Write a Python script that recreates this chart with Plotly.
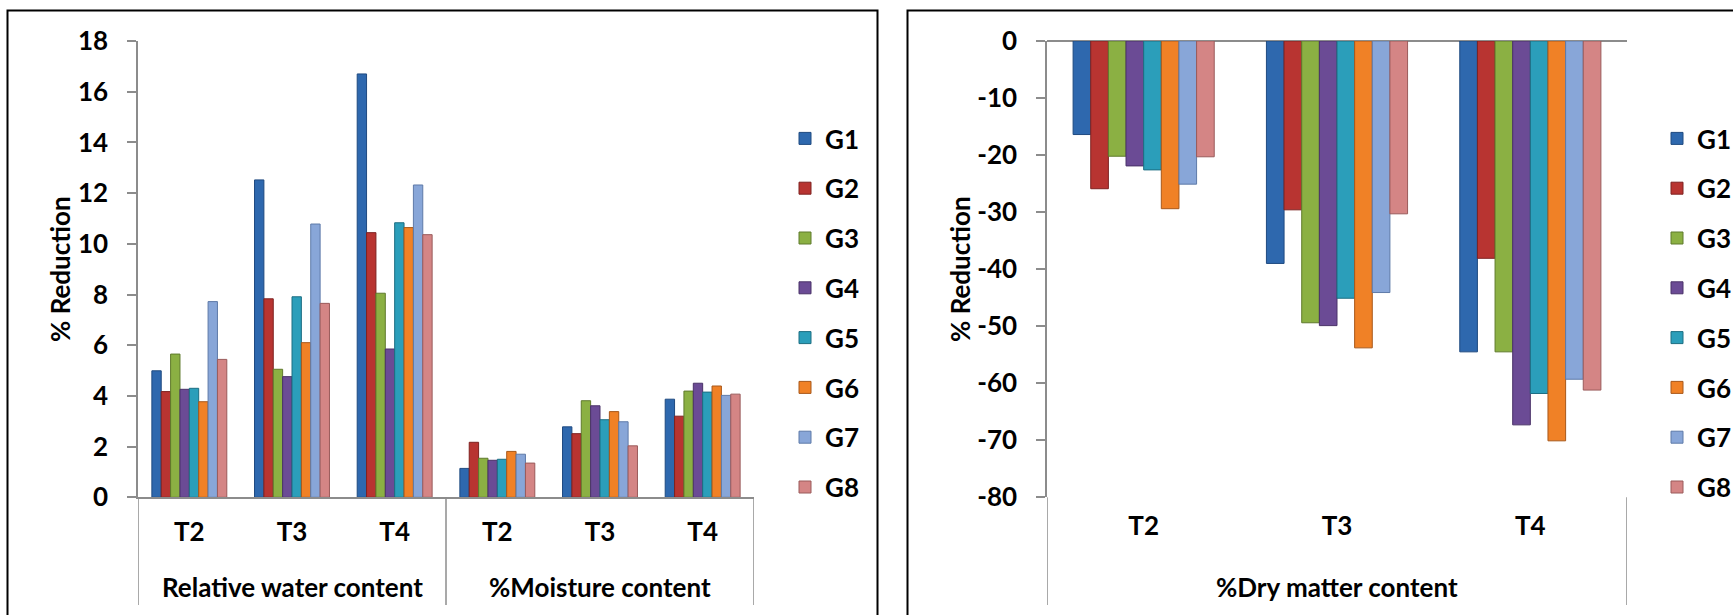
import plotly.graph_objects as go

# ---------------- data ----------------
genotypes = ["G1", "G2", "G3", "G4", "G5", "G6", "G7", "G8"]
treatments = ["T2", "T3", "T4"]
left_groups = ["Relative water content", "%Moisture content"]
right_group = "%Dry matter content"
left_yticks = [0, 2, 4, 6, 8, 10, 12, 14, 16, 18]
right_yticks = [0, -10, -20, -30, -40, -50, -60, -70, -80]

rwc = {
    "G1": [4.99, 12.52, 16.70],
    "G2": [4.17, 7.83, 10.44],
    "G3": [5.65, 5.05, 8.05],
    "G4": [4.26, 4.76, 5.85],
    "G5": [4.30, 7.91, 10.83],
    "G6": [3.77, 6.10, 10.64],
    "G7": [7.72, 10.78, 12.32],
    "G8": [5.44, 7.65, 10.36],
}
moisture = {
    "G1": [1.14, 2.78, 3.87],
    "G2": [2.17, 2.51, 3.20],
    "G3": [1.54, 3.81, 4.19],
    "G4": [1.46, 3.61, 4.50],
    "G5": [1.50, 3.06, 4.15],
    "G6": [1.81, 3.38, 4.39],
    "G7": [1.70, 2.98, 4.02],
    "G8": [1.35, 2.03, 4.07],
}
dry_matter = {
    "G1": [-16.4, -39.0, -54.5],
    "G2": [-25.9, -29.6, -38.1],
    "G3": [-20.2, -49.4, -54.5],
    "G4": [-21.9, -49.9, -67.3],
    "G5": [-22.6, -45.1, -61.8],
    "G6": [-29.4, -53.8, -70.1],
    "G7": [-25.1, -44.1, -59.3],
    "G8": [-20.3, -30.3, -61.2],
}

# ---------------- style ----------------
colors = ["#2E68AE", "#B83431", "#8BB043", "#6B4B95", "#2B9EBA", "#F08126", "#88A6D8", "#D48585"]
edges = ["#1F4A80", "#7E2221", "#5F7A2C", "#4A3268", "#1D6E82", "#A8581A", "#5E7AA8", "#9A5B5B"]
FONT = "Lato"
FS = 26
AXC = "#8C8C8C"
W, H = 1733, 615


def px(x):
    return x / W


def py(y):
    return 1 - y / H


def bold(size=FS):
    return dict(family=FONT, size=size, color="black", weight="bold")


fig = go.Figure()

left_x = list(range(len(treatments) * len(left_groups)))
right_x = list(range(len(treatments)))

for i, g in enumerate(genotypes):
    fig.add_trace(go.Bar(
        x=left_x, y=rwc[g] + moisture[g], name=g,
        marker=dict(color=colors[i], line=dict(color=edges[i], width=1)),
        xaxis="x", yaxis="y", legend="legend", legendgroup="L" + g,
    ))
for i, g in enumerate(genotypes):
    fig.add_trace(go.Bar(
        x=right_x, y=dry_matter[g], name=g,
        marker=dict(color=colors[i], line=dict(color=edges[i], width=1)),
        xaxis="x2", yaxis="y2", legend="legend2", legendgroup="R" + g,
    ))

ydom = [py(497.3), py(41)]

fig.update_layout(
    template="none",
    width=W, height=H,
    margin=dict(l=0, r=0, t=0, b=0, pad=0, autoexpand=False),
    paper_bgcolor="white", plot_bgcolor="white",
    font=bold(),
    barmode="group", bargap=0.27, bargroupgap=0,
    xaxis=dict(
        domain=[px(138), px(754)], range=[-0.5, 5.5],
        tickvals=left_x, ticktext=treatments * 2,
        showline=True, linecolor=AXC, linewidth=1.5,
        ticks="", showgrid=False, zeroline=False, automargin=False,
        tickfont=bold(), ticklabelstandoff=11, anchor="y",
    ),
    yaxis=dict(
        domain=ydom, range=[0, 18],
        tickvals=left_yticks, ticktext=[str(v) for v in left_yticks],
        showline=True, linecolor=AXC, linewidth=1.5,
        ticks="outside", ticklen=9, tickcolor=AXC, tickwidth=1.5,
        showgrid=False, zeroline=False, automargin=False,
        tickfont=bold(), ticklabelstandoff=14, anchor="x",
    ),
    xaxis2=dict(
        domain=[px(1047), px(1627)], range=[-0.5, 2.5],
        tickvals=right_x, ticktext=treatments,
        showline=False, ticks="", showgrid=False, zeroline=False, automargin=False,
        tickfont=bold(), ticklabelstandoff=11, anchor="y2",
    ),
    yaxis2=dict(
        domain=ydom, range=[-80, 0],
        tickvals=right_yticks, ticktext=[str(v) for v in right_yticks],
        showline=True, linecolor=AXC, linewidth=1.5,
        ticks="outside", ticklen=9, tickcolor=AXC, tickwidth=1.5,
        showgrid=False, zeroline=True, zerolinecolor=AXC, zerolinewidth=1.5,
        automargin=False,
        tickfont=bold(), ticklabelstandoff=14, anchor="x2",
    ),
    legend=dict(
        x=px(785), y=py(115), xanchor="left", yanchor="top",
        font=bold(), tracegroupgap=13, bgcolor="rgba(0,0,0,0)", borderwidth=0,
    ),
    legend2=dict(
        x=px(1657), y=py(115), xanchor="left", yanchor="top",
        font=bold(), tracegroupgap=13, bgcolor="rgba(0,0,0,0)", borderwidth=0,
    ),
)

shapes = []
# chart frames
shapes.append(dict(type="rect", xref="paper", yref="paper",
                   x0=px(7.5), x1=px(877.5), y0=py(640), y1=py(10.5),
                   line=dict(color="black", width=2), layer="below"))
shapes.append(dict(type="rect", xref="paper", yref="paper",
                   x0=px(907.5), x1=px(1760), y0=py(640), y1=py(10.5),
                   line=dict(color="black", width=2), layer="below"))
# category dividers (left chart)
for xv in [-0.5, 2.5, 5.5]:
    shapes.append(dict(type="line", xref="x", yref="paper", x0=xv, x1=xv,
                       y0=py(497.3), y1=py(605), line=dict(color=AXC, width=1.5)))
# category dividers (right chart)
for xv in [-0.5, 2.5]:
    shapes.append(dict(type="line", xref="x2", yref="paper", x0=xv, x1=xv,
                       y0=py(497.3), y1=py(605), line=dict(color=AXC, width=1.5)))
fig.update_layout(shapes=shapes)

ann = []
for cx, label in zip([1.0, 4.0], left_groups):
    ann.append(dict(x=cx, xref="x", y=py(587), yref="paper", text=label,
                    showarrow=False, xanchor="center", yanchor="middle", font=bold()))
ann.append(dict(x=1.0, xref="x2", y=py(587), yref="paper", text=right_group,
                showarrow=False, xanchor="center", yanchor="middle", font=bold()))
for xc in [60, 960]:
    ann.append(dict(x=px(xc), xref="paper", y=py(269), yref="paper", text="% Reduction",
                    textangle=-90, showarrow=False, xanchor="center", yanchor="middle",
                    font=bold()))
fig.update_layout(annotations=ann)

fig.write_html("out.html")
